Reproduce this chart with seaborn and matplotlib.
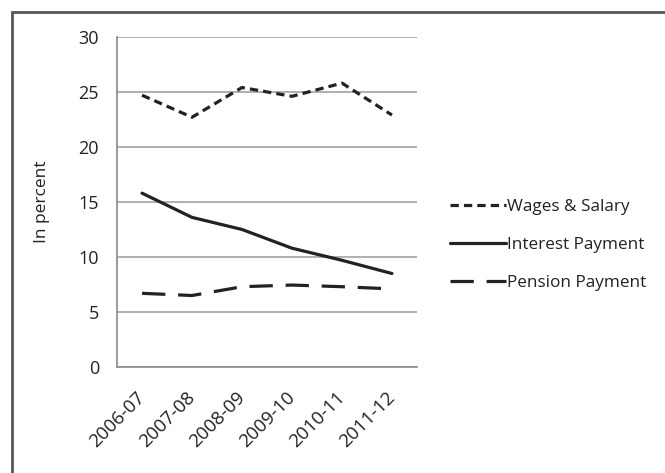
import matplotlib
matplotlib.use("Agg")
import matplotlib.pyplot as plt
import seaborn as sns
import pandas as pd
from matplotlib.patches import Rectangle

years = ["2006-07", "2007-08", "2008-09", "2009-10", "2010-11", "2011-12"]
wages_salary = [24.7, 22.7, 25.4, 24.6, 25.8, 22.9]
interest_payment = [15.8, 13.6, 12.5, 10.8, 9.7, 8.5]
pension_payment = [6.7, 6.5, 7.3, 7.45, 7.3, 7.1]

series_names = ["Wages & Salary", "Interest Payment", "Pension Payment"]

df = pd.DataFrame({
    "year": years * 3,
    "pos": list(range(len(years))) * 3,
    "value": wages_salary + interest_payment + pension_payment,
    "series": [s for s in series_names for _ in years],
})

sns.set_theme(style="white")
plt.rcParams["font.family"] = ["Open Sans", "DejaVu Sans"]

fig = plt.figure(figsize=(6.65, 4.73), dpi=100)
ax = fig.add_axes([0.176, 0.224, 0.451, 0.698])

dash_styles = {
    "Wages & Salary": (2.6, 1.6),
    "Interest Payment": "",
    "Pension Payment": (7.3, 4),
}
sns.lineplot(data=df, x="pos", y="value", hue="series", style="series",
             palette=["#222222"] * 3, dashes=dash_styles, linewidth=2.3,
             ax=ax, legend=True)

ax.set_xlim(-0.5, len(years) - 0.5)
ax.set_ylim(0, 30)
ax.set_yticks(range(0, 31, 5))
ax.set_xticks(range(len(years)))
ax.set_xticklabels(years, rotation=45, ha="right", va="center",
                   rotation_mode="anchor", fontsize=13.5, color="#222222")
ax.tick_params(axis="both", length=0)
ax.tick_params(axis="y", labelsize=13, labelcolor="#222222", pad=13)
ax.tick_params(axis="x", pad=20)
ax.set_xlabel("")
ax.set_ylabel("In percent", fontsize=12.5, color="#222222")
ax.yaxis.set_label_coords(-0.223, 0.5)

ax.grid(axis="y", color="#9a9a9a", linewidth=1.1)
ax.grid(axis="x", visible=False)
for side in ["top", "right"]:
    ax.spines[side].set_visible(False)
for side in ["left", "bottom"]:
    ax.spines[side].set_color("#8a8a8a")
    ax.spines[side].set_linewidth(1.2)

handles, labels = ax.get_legend_handles_labels()
ax.legend(handles, labels, loc="center left",
          bbox_to_anchor=(450 / 665, 1 - 245 / 473),
          bbox_transform=fig.transFigure, borderpad=0, borderaxespad=0,
          frameon=False, fontsize=12.3, handlelength=3.3, handletextpad=0.05,
          labelspacing=1.3, labelcolor="#222222")

fig.patches.append(Rectangle((12 / 665, -0.1), 1.2, 1 - 12 / 473 + 0.1,
                             transform=fig.transFigure, fill=False,
                             edgecolor="#555555", linewidth=2))

fig.savefig("out.png", dpi=100, facecolor="white")
